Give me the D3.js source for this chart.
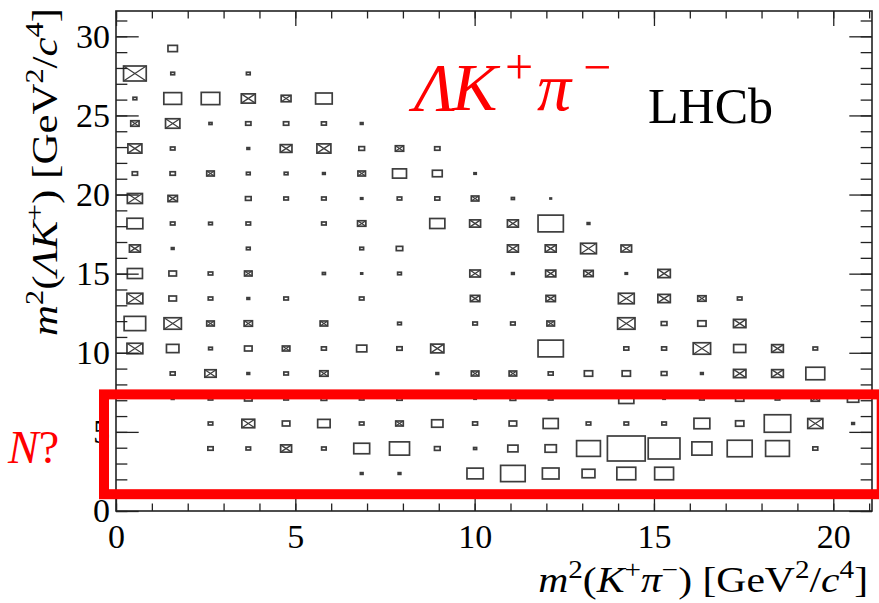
<!DOCTYPE html>
<html><head><meta charset="utf-8">
<script src="https://cdn.jsdelivr.net/npm/d3@7"></script>
<style>body{margin:0;background:#fff}svg{display:block}</style>
</head><body>
<svg id="c" width="879" height="603"></svg>
<script>
// ---- data ----
const nBinsX = 20, xMax = 21.08;   // m2(K+ pi-) binning
const nBinsY = 20, yMax = 31.6;    // m2(Lambda K+) binning
const xTickLabels = [0, 5, 10, 15, 20];
const yTickLabels = [0, 5, 10, 15, 20, 25, 30];
// bin contents per y-bin (top row first); negative contents drawn as crossed boxes
const row19 = [0,0,0,0,0,0,0,0,0,0,0,0,0,0,0,0,0,0,0,0];
const row18 = [0,25,0,0,0,0,0,0,0,0,0,0,0,0,0,0,0,0,0,0];
const row17 = [-60,10,0,10,0,0,0,0,0,0,0,0,0,0,0,0,0,0,0,0];
const row16 = [10,47,49,-37,-26,44,0,0,0,0,0,0,0,0,0,0,0,0,0,0];
const row15 = [-22,-38,8,14,14,13,7,0,0,0,0,0,0,0,0,0,0,0,0,0];
const row14 = [-37,12,0,7,-31,-37,15,-22,14,0,0,0,0,0,0,0,0,0,0,0];
const row13 = [14,14,-20,10,10,7,-20,37,26,6,0,0,0,0,0,0,0,0,0,0];
const row12 = [-40,-25,0,15,12,12,6,12,13,-20,8,4,0,0,0,0,0,0,0,0];
const row11 = [42,12,10,12,0,12,-22,0,40,-29,-29,67,7,0,0,0,0,0,0,0];
const row10 = [-29,7,0,10,0,0,10,17,0,0,-29,-29,-42,-28,0,0,0,0,0,0];
const row9  = [40,20,12,-20,0,8,5,10,0,-28,7,-27,-25,6,-33,0,0,0,0,0];
const row8  = [-42,20,12,7,12,0,12,0,0,-25,0,-25,0,-42,-33,-22,12,0,0,0];
const row7  = [57,-46,-20,-22,0,-20,0,10,0,12,12,-20,0,-46,15,22,-33,0,0,0];
const row6  = [-42,33,10,20,-20,13,27,14,-35,0,0,67,0,13,13,-46,32,-31,12,0];
const row5  = [0,13,-30,7,12,-22,0,0,7,-20,-20,13,22,22,15,7,-33,-31,50,0];
const row4  = [0,7,12,20,12,15,12,14,0,6,15,12,0,40,6,12,22,12,-22,30];
const row3  = [0,0,12,-34,20,33,12,-20,30,13,20,40,12,12,12,42,22,70,-40,7];
const row2  = [0,0,14,12,-29,12,42,53,15,8,27,30,63,100,84,53,66,63,13,0];
const row1  = [0,0,0,0,0,0,7,7,0,43,65,44,34,50,50,0,0,0,0,0];
const row0  = [0,0,0,0,0,0,0,0,0,0,0,0,0,0,0,0,0,0,0,0];
const rowsTopDown = [row19,row18,row17,row16,row15,row14,row13,row12,row11,row10,row9,row8,row7,row6,row5,row4,row3,row2,row1,row0];

// ---- drawing ----
const svg = d3.select('#c');
const FONT = "'Liberation Serif','Times New Roman',serif";
const L = 116, R = 872, T = 11, B = 511;
const x = d3.scaleLinear().domain([0, xMax]).range([L, R]);
const y = d3.scaleLinear().domain([0, yMax]).range([B, T]);
const bw = xMax / nBinsX, bh = yMax / nBinsY;

const cells = [];
rowsTopDown.forEach((row, i) => {
  const r = nBinsY - 1 - i;
  row.forEach((v, c) => { if (v !== 0) cells.push({r, c, v}); });
});
const zMax = d3.max(cells, d => Math.abs(d.v));
const frac = d3.scaleLinear().domain([0, zMax]).range([0, 1]);

const gb = svg.append('g').attr('fill', 'none').attr('stroke', '#3d3d3d').attr('stroke-width', 1.7);
cells.forEach(d => {
  const f = frac(Math.abs(d.v));
  const x0 = x(d.c * bw + (1 - f) * bw / 2), x1 = x((d.c + 1) * bw - (1 - f) * bw / 2);
  const y0 = y((d.r + 1) * bh - (1 - f) * bh / 2), y1 = y(d.r * bh + (1 - f) * bh / 2);
  gb.append('rect').attr('x', x0).attr('y', y0).attr('width', x1 - x0).attr('height', y1 - y0);
  if (d.v < 0) gb.append('path').attr('stroke-width', 1.2)
    .attr('d', `M${x0},${y0}L${x1},${y1}M${x0},${y1}L${x1},${y0}`);
});

// axes (ROOT style, ticks inward, mirrored)
function drawAxis(gen, tr, vals, len, fmt, pad) {
  const g = svg.append('g').attr('transform', tr)
    .call(gen.tickValues(vals).tickSize(len).tickPadding(pad).tickFormat(fmt));
  g.select('.domain').remove();
  g.selectAll('line').attr('stroke', '#222').attr('stroke-width', 1.3);
  g.selectAll('text').attr('font-family', FONT).attr('font-size', 34).attr('fill', '#000');
  g.attr('font-family', null).attr('font-size', null);
  return g;
}
const xMinor = d3.range(0, 22), yMinor = d3.range(0, 32);
const xl = 15, yl = 22.7;
drawAxis(d3.axisBottom(x), `translate(0,${B})`, xMinor, -xl / 2, '', 0);
drawAxis(d3.axisBottom(x), `translate(0,${B})`, xTickLabels, -xl, d3.format('d'), 13);
drawAxis(d3.axisTop(x), `translate(0,${T})`, xMinor, -xl / 2, '', 0);
drawAxis(d3.axisTop(x), `translate(0,${T})`, xTickLabels, -xl, '', 0);
drawAxis(d3.axisLeft(y), `translate(${L},0)`, yMinor, -yl / 2, '', 0);
drawAxis(d3.axisLeft(y), `translate(${L},0)`, yTickLabels, -yl, d3.format('d'), 6);
drawAxis(d3.axisRight(y), `translate(${R},0)`, yMinor, -yl / 2, '', 0);
drawAxis(d3.axisRight(y), `translate(${R},0)`, yTickLabels, -yl, '', 0);

svg.append('rect').attr('x', L).attr('y', T).attr('width', R - L).attr('height', B - T)
  .attr('fill', 'none').attr('stroke', '#222').attr('stroke-width', 1.6);

// rich text helper
function rich(sel, parts, base) {
  let shift = 0;
  parts.forEach(p => {
    const ts = sel.append('tspan').text(p.t);
    const target = p.sup ? -0.4 * base : 0;
    if (target !== shift) { ts.attr('dy', target - shift); shift = target; }
    ts.attr('font-size', p.sup ? base * 0.7 : base);
    if (p.i) ts.attr('font-style', 'italic');
  });
}
function title(tr, parts, targetLen) {
  const g = svg.append('g').attr('transform', tr);
  const inner = g.append('g');
  const t = inner.append('text').attr('text-anchor', 'end')
    .attr('font-family', FONT).attr('font-size', 35).attr('fill', '#000');
  rich(t, parts, 35);
  const len = t.node().getComputedTextLength();
  inner.attr('transform', `scale(${targetLen / len},1)`);
}
title('translate(868,592)', [{t:'m',i:1},{t:'2',sup:1},{t:'('},{t:'K',i:1},{t:'+',sup:1},{t:'π',i:1},{t:'−',sup:1},
  {t:') [GeV'},{t:'2',sup:1},{t:'/'},{t:'c',i:1},{t:'4',sup:1},{t:']'}], 330);
title('translate(57,8) rotate(-90)', [{t:'m',i:1},{t:'2',sup:1},{t:'('},{t:'Λ',i:1},{t:'K',i:1},{t:'+',sup:1},
  {t:') [GeV'},{t:'2',sup:1},{t:'/'},{t:'c',i:1},{t:'4',sup:1},{t:']'}], 328);

// annotations
svg.append('rect').attr('x', 104).attr('y', 394.4).attr('width', 777.7).attr('height', 99.8)
  .attr('fill', 'none').attr('stroke', '#ff0000').attr('stroke-width', 10);

const lab = svg.append('text').attr('y', 110).attr('fill', '#ff0000')
  .attr('font-family', FONT).attr('font-size', 68);
lab.append('tspan').attr('x', 414).attr('font-style', 'italic').text('Λ');
lab.append('tspan').attr('x', 452).attr('font-style', 'italic').text('K');
lab.append('tspan').attr('x', 505).attr('dy', -26).attr('font-size', 50).text('+');
lab.append('tspan').attr('x', 537).attr('dy', 26).attr('font-style', 'italic').text('π');
lab.append('tspan').attr('x', 583).attr('dy', -26).attr('font-size', 50).text('−');

svg.append('text').attr('x', 648).attr('y', 123).attr('font-family', FONT).attr('font-size', 50)
  .attr('fill', '#000').text('LHCb');

const nq = svg.append('text').attr('x', 8).attr('y', 463).attr('fill', '#ff0000')
  .attr('font-family', FONT).attr('font-size', 46);
nq.append('tspan').attr('font-style', 'italic').text('N');
nq.append('tspan').text('?');
</script>
</body></html>
